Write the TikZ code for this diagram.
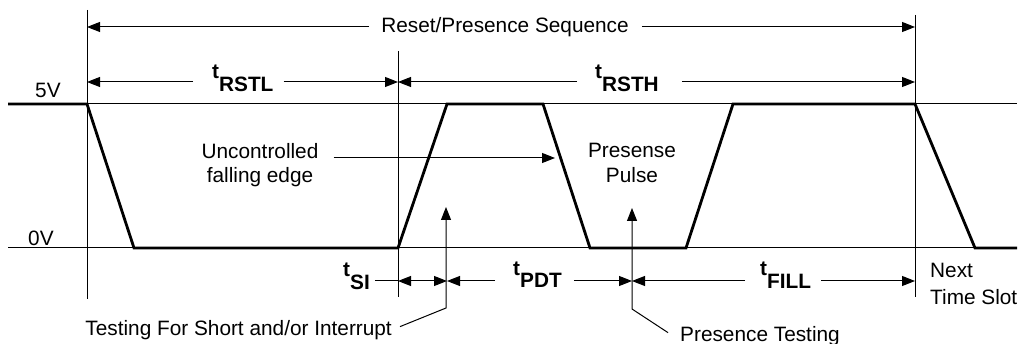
\documentclass[tikz,border=0pt]{standalone}
\usepackage{fontspec}
\setmainfont{Liberation Sans}
\usetikzlibrary{arrows.meta,calc}
\newcommand\tlab[1]{t\raisebox{-12.5pt}{#1}}
\begin{document}
\begin{tikzpicture}[x=1pt,y=-1pt,
 thinln/.style={line width=1pt},
 wave/.style={line width=2.8pt,line join=miter},
 tipR/.style={thinln,-{Triangle[length=13pt,width=10pt]}},
 tipB/.style={thinln,{Triangle[length=13pt,width=10pt]}-{Triangle[length=13pt,width=10pt]}},
 txt/.style={font=\fontsize{20.8}{25}\selectfont,inner sep=0pt},
 ttxt/.style={font=\fontsize{20.8}{25}\selectfont\bfseries,inner sep=0pt,anchor=base west}]
\useasboundingbox (0,0) rectangle (1027,344);
% reference levels
\coordinate (hiL) at (8,104); \coordinate (hiR) at (1017,104);
\coordinate (loL) at (8,248); \coordinate (loR) at (1017,248);
\draw[thinln] (hiL) -- (hiR);
\draw[thinln] (loL) -- (loR);
% vertical markers
\coordinate (m1t) at (87,10);  \coordinate (m1b) at (87,299);
\coordinate (m2t) at (398,51); \coordinate (m2b) at (398,297);
\coordinate (m3t) at (915,15); \coordinate (m3b) at (915,297);
\draw[thinln] (m1t) -- (m1b);
\draw[thinln] (m2t) -- (m2b);
\draw[thinln] (m3t) -- (m3b);
% waveform
\coordinate (w0) at (8,104);   \coordinate (w1) at (87,104);
\coordinate (w2) at (134,248); \coordinate (w3) at (398,248);
\coordinate (w4) at (447,104); \coordinate (w5) at (543,104);
\coordinate (w6) at (590,248); \coordinate (w7) at (686,248);
\coordinate (w8) at (733,104); \coordinate (w9) at (915,104);
\coordinate (w10) at (975,248); \coordinate (w11) at (1017,248);
\draw[wave] (w0) -- (w1) -- (w2) -- (w3) -- (w4) -- (w5) -- (w6) -- (w7) -- (w8) -- (w9) -- (w10) -- (w11);
% level labels
\node[txt,anchor=base west] (v5) at (35,98) {5V};
\node[txt,anchor=base west] (v0) at (28,246) {0V};
% sequence
\node[txt,anchor=base] (seq) at (505,33) {Reset/Presence Sequence};
\coordinate (sqL) at (87,27); \coordinate (sqR) at (915,27);
\draw[tipR] ($(seq.west |- sqL)+(-12,0)$) -- (sqL);
\draw[tipR] ($(seq.east |- sqR)+(13,0)$) -- (sqR);
% tRSTL / tRSTH
\coordinate (a1) at (87,82); \coordinate (a2) at (398,82); \coordinate (a3) at (915,82);
\node[ttxt] (rstl) at (212,79) {\tlab{RSTL}};
\node[ttxt] (rsth) at (595,79) {\tlab{RSTH}};
\draw[tipR] ($(rstl.west |- a1)+(-19,0)$) -- (a1);
\draw[tipR] ($(rstl.east |- a2)+(10,0)$) -- (a2);
\draw[tipR] ($(rsth.west |- a2)+(-18,0)$) -- (a2);
\draw[tipR] ($(rsth.east |- a3)+(23,0)$) -- (a3);
% lower timing row
\coordinate (b2) at (398,281); \coordinate (b3) at (447,281);
\coordinate (b4) at (632,281); \coordinate (b5) at (915,281);
\node[ttxt] (tsi) at (343,277) {\tlab{SI}};
\node[ttxt] (tpdt) at (513,275.5) {\tlab{PDT}};
\node[ttxt] (tfill) at (760,276) {\tlab{FILL}};
\draw[thinln] ($(tsi.east |- b2)+(5,0)$) -- (b2);
\draw[tipB] (b2) -- (b3);
\draw[tipR] ($(tpdt.west |- b3)+(-18,0)$) -- (b3);
\draw[tipR] ($(tpdt.east |- b4)+(12,0)$) -- (b4);
\draw[tipR] ($(tfill.west |- b4)+(-15,0)$) -- (b4);
\draw[tipR] ($(tfill.east |- b5)+(10,0)$) -- (b5);
% testing arrows
\coordinate (s1) at (446,207); \coordinate (s2) at (446,308);
\node[txt,anchor=base east] (tst) at (392,335) {Testing For Short and/or Interrupt};
\draw[tipR] ($(tst.east)+(8,-3)$) -- (s2) -- (s1);
\coordinate (p1) at (632,208); \coordinate (p2) at (632,309);
\node[txt,anchor=base west] (pt) at (680,341) {Presence Testing};
\draw[tipR] ($(pt.west)+(-12,-3)$) -- (p2) -- (p1);
% annotations
\node[txt,anchor=base] (unc1) at (260,159) {Uncontrolled};
\node[txt,anchor=base] (unc2) at (260,183) {falling edge};
\coordinate (uncT) at (555,158);
\draw[tipR] ($(unc1.east |- uncT)+(15,0)$) -- (uncT);
\node[txt,anchor=base] (pp1) at (632,158) {Presense};
\node[txt,anchor=base] (pp2) at (632,183) {Pulse};
\node[txt,anchor=base west] (nx1) at (930,278) {Next};
\node[txt,anchor=base west] (nx2) at (930,305) {Time Slot};
\end{tikzpicture}
\end{document}
